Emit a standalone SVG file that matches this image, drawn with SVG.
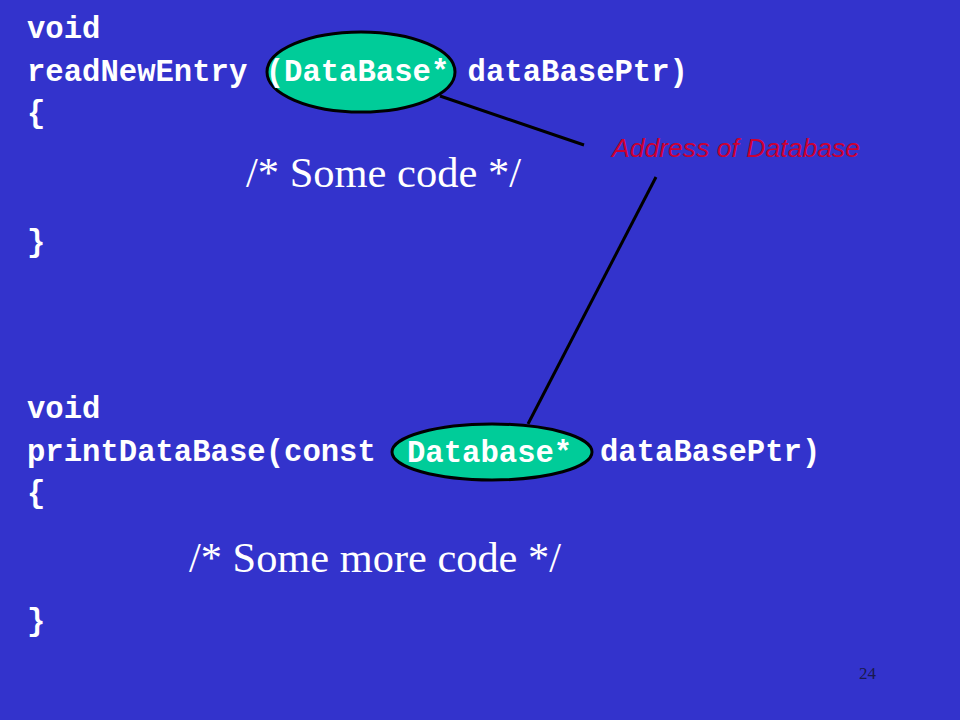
<svg xmlns="http://www.w3.org/2000/svg" width="960" height="720" viewBox="0 0 960 720">
<style>
.code{font-family:"Liberation Mono","Courier New",monospace;font-weight:bold;font-size:30.6px;fill:#ffffff;}
.cmt{font-family:"Liberation Serif","Times New Roman",serif;font-size:43px;fill:#ffffff;}
.ell{fill:#00cc99;stroke:#000000;stroke-width:3;}
.conn{stroke:#000000;stroke-width:3;fill:none;}
.lbl{font-family:"Liberation Sans",Arial,sans-serif;font-style:italic;font-size:26px;fill:#cc0033;}
</style>
<rect x="0" y="0" width="960" height="720" fill="#3333cc"/>
<g id="connectors">
<line class="conn" x1="440" y1="96" x2="584" y2="145"/>
<line class="conn" x1="656" y1="177" x2="528" y2="424"/>
</g>
<g id="node-top">
<ellipse class="ell" cx="361" cy="72" rx="94" ry="40"/>
</g>
<g id="node-bottom">
<ellipse class="ell" cx="492" cy="452" rx="100" ry="28"/>
</g>
<g id="code-top">
<text class="code" x="27" y="38">void</text>
<text class="code" x="27" y="81">readNewEntry (DataBase* dataBasePtr)</text>
<text class="code" x="27" y="122">{</text>
<text class="cmt" x="246" y="187" textLength="275" lengthAdjust="spacingAndGlyphs">/* Some code */</text>
<text class="code" x="27" y="251">}</text>
</g>
<g id="code-bottom">
<text class="code" x="27" y="418">void</text>
<text class="code" x="27" y="461">printDataBase(const</text>
<text class="code" x="407" y="462">Database*</text>
<text class="code" x="600" y="461">dataBasePtr)</text>
<text class="code" x="27" y="502">{</text>
<text class="cmt" x="189" y="572" textLength="372" lengthAdjust="spacingAndGlyphs">/* Some more code */</text>
<text class="code" x="27" y="630">}</text>
</g>
<g id="label">
<text class="lbl" x="612" y="157" textLength="248" lengthAdjust="spacingAndGlyphs">Address of Database</text>
</g>
<text x="859" y="679" font-family="Liberation Serif, Times New Roman, serif" font-size="17" fill="#1a1a4d">24</text>
</svg>
